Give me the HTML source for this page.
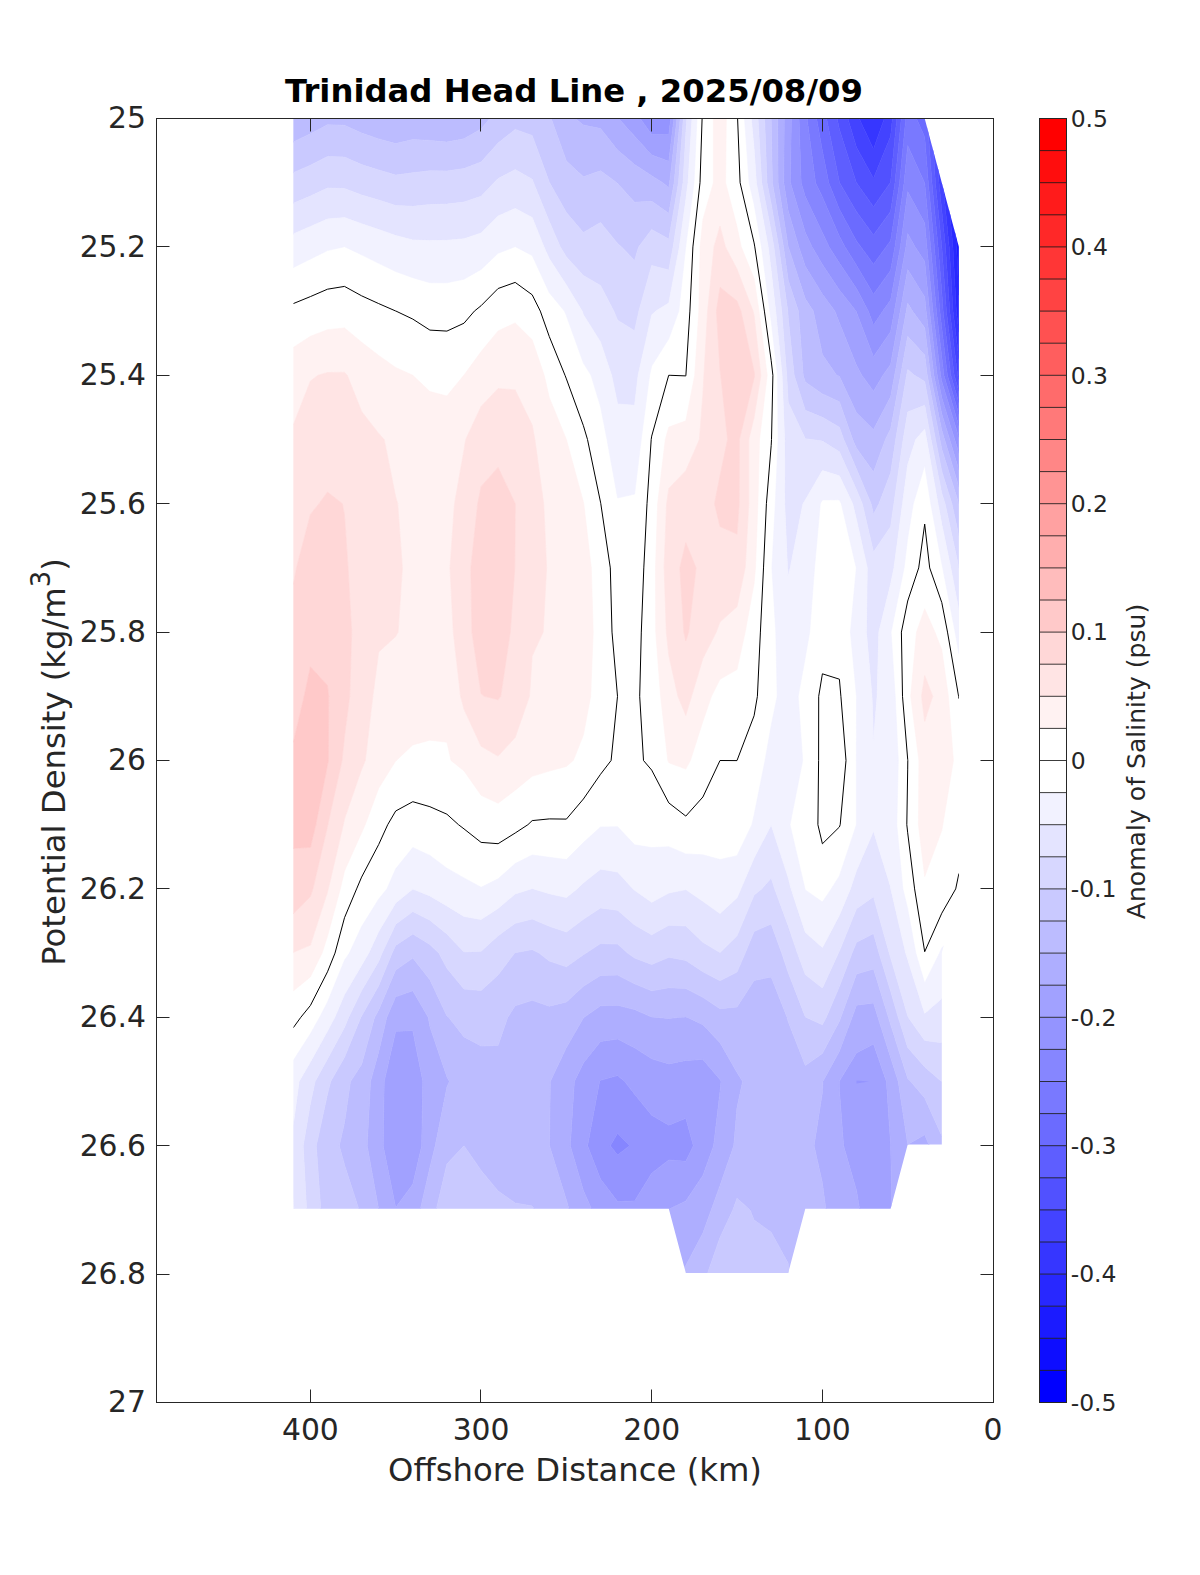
<!DOCTYPE html><html><head><meta charset="utf-8"><title>Trinidad Head Line</title><style>html,body{margin:0;padding:0;background:#fff}body{width:1200px;height:1575px;position:relative;overflow:hidden}</style></head><body><svg width="1200" height="1575" viewBox="0 0 1200 1575" style="position:absolute;left:0;top:0">
<defs><clipPath id="dc"><polygon points="293.3,118.5 924.7,118.5 958.9,246.9 958.9,888.9 941.8,953.1 941.8,1144.5 907.7,1144.5 890.6,1208.7 805.3,1208.7 788.2,1272.9 685.8,1272.9 668.8,1208.7 293.3,1208.7"/></clipPath></defs>
<rect width="1200" height="1575" fill="#fff"/>
<g clip-path="url(#dc)" shape-rendering="geometricPrecision"><path d="M956.6,118.5L958.9,118.5L958.9,156.7Z" fill="#0000ff" stroke="#0000ff" stroke-width="0.6"/><path d="M952.6,118.5L956.6,118.5L958.9,156.7L958.9,182.7L958.9,222.3L956.1,182.7Z" fill="#0d0dff" stroke="#0d0dff" stroke-width="0.6"/><path d="M948.5,118.5L952.6,118.5L956.1,182.7L958.9,222.3L958.9,246.9L958.9,295.1L956.6,246.9L951.7,182.7Z" fill="#1b1bff" stroke="#1b1bff" stroke-width="0.6"/><path d="M873.1,118.5L873.5,118.5L873.9,118.5L873.5,119.5ZM944.4,118.5L948.5,118.5L951.7,182.7L956.6,246.9L958.9,295.1L958.9,311.1L958.9,332.2L956.3,311.1L952.9,246.9L947.2,182.7Z" fill="#2828ff" stroke="#2828ff" stroke-width="0.6"/><path d="M859.2,118.5L873.1,118.5L873.5,119.5L873.9,118.5L884.3,118.5L873.5,148.9ZM940.2,118.5L941.8,118.5L944.4,118.5L947.2,182.7L952.9,246.9L956.3,311.1L958.9,332.2L958.9,358.7L953.0,311.1L949.2,246.9L942.8,182.7L941.8,158.3Z" fill="#3636ff" stroke="#3636ff" stroke-width="0.6"/><path d="M847.9,118.5L856.5,118.5L859.2,118.5L873.5,148.9L884.3,118.5L890.6,118.5L892.4,118.5L890.6,136.3L873.5,178.3L856.5,147.2ZM935.9,118.5L940.2,118.5L941.8,158.3L942.8,182.7L949.2,246.9L953.0,311.1L958.9,358.7L958.9,375.3L958.9,379.6L957.6,375.3L949.7,311.1L945.5,246.9L941.8,210.9L939.0,182.7Z" fill="#4343ff" stroke="#4343ff" stroke-width="0.6"/><path d="M837.2,118.5L839.4,118.5L847.9,118.5L856.5,147.2L873.5,178.3L890.6,136.3L892.4,118.5L896.8,118.5L890.6,181.7L890.2,182.7L873.5,206.7L856.5,182.8L856.4,182.7L839.4,129.3ZM931.6,118.5L935.9,118.5L939.0,182.7L941.8,210.9L945.5,246.9L949.7,311.1L957.6,375.3L958.9,379.6L958.9,391.2L954.2,375.3L946.4,311.1L941.8,247.1L941.8,246.9L935.4,182.7Z" fill="#5151ff" stroke="#5151ff" stroke-width="0.6"/><path d="M826.6,118.5L837.2,118.5L839.4,129.3L856.4,182.7L856.5,182.8L873.5,206.7L890.2,182.7L890.6,181.7L896.8,118.5L901.3,118.5L895.0,182.7L890.6,211.4L873.5,234.9L856.5,211.8L839.6,182.7L839.4,182.0ZM927.3,118.5L931.6,118.5L935.4,182.7L941.8,246.9L941.8,247.1L946.4,311.1L954.2,375.3L958.9,391.2L958.9,402.7L950.8,375.3L943.1,311.1L941.8,292.6L938.1,246.9L931.9,182.7Z" fill="#5e5eff" stroke="#5e5eff" stroke-width="0.6"/><path d="M816.6,118.5L822.4,118.5L826.6,118.5L839.4,182.0L839.6,182.7L856.5,211.8L873.5,234.9L890.6,211.4L895.0,182.7L901.3,118.5L905.8,118.5L899.6,182.7L890.6,240.7L886.0,246.9L873.5,264.2L861.0,246.9L856.5,240.9L839.4,209.3L828.8,182.7L822.4,150.7ZM916.5,118.5L924.7,118.5L927.3,118.5L931.9,182.7L938.1,246.9L941.8,292.6L943.1,311.1L950.8,375.3L958.9,402.7L958.9,414.3L947.4,375.3L941.8,328.3L939.8,311.1L934.4,246.9L928.3,182.7L924.7,137.0Z" fill="#6b6bff" stroke="#6b6bff" stroke-width="0.6"/><path d="M807.1,118.5L816.6,118.5L822.4,150.7L828.8,182.7L839.4,209.3L856.5,240.9L861.0,246.9L873.5,264.2L886.0,246.9L890.6,240.7L899.6,182.7L905.8,118.5L907.7,118.5L916.5,118.5L924.7,137.0L928.3,182.7L934.4,246.9L939.8,311.1L941.8,328.3L947.4,375.3L958.9,414.3L958.9,425.9L943.9,375.3L941.8,357.2L936.4,311.1L930.6,246.9L924.7,183.0L924.6,182.7L907.7,145.4L904.1,182.7L894.9,246.9L890.6,270.4L873.5,294.2L856.5,265.3L845.1,246.9L839.4,236.2L822.4,196.9L815.6,182.7Z" fill="#7979ff" stroke="#7979ff" stroke-width="0.6"/><path d="M799.0,118.5L805.3,118.5L807.1,118.5L815.6,182.7L822.4,196.9L839.4,236.2L845.1,246.9L856.5,265.3L873.5,294.2L890.6,270.4L894.9,246.9L904.1,182.7L907.7,145.4L924.6,182.7L924.7,183.0L930.6,246.9L936.4,311.1L941.8,357.2L943.9,375.3L958.9,425.9L958.9,437.4L941.8,381.4L940.6,375.3L932.9,311.1L926.9,246.9L924.7,223.1L907.7,191.5L900.4,246.9L890.6,300.1L882.8,311.1L873.5,325.0L868.3,311.1L856.5,288.4L839.4,263.1L829.2,246.9L822.4,232.5L805.3,196.6L801.2,182.7ZM610.3,1145.7L617.6,1133.2L629.6,1145.7L617.6,1155.1Z" fill="#8686ff" stroke="#8686ff" stroke-width="0.6"/><path d="M640.2,118.5L651.7,118.5L668.8,118.5L670.7,118.5L668.8,134.8L651.7,134.6ZM791.3,118.5L799.0,118.5L801.2,182.7L805.3,196.6L822.4,232.5L829.2,246.9L839.4,263.1L856.5,288.4L868.3,311.1L873.5,325.0L882.8,311.1L890.6,300.1L900.4,246.9L907.7,191.5L924.7,223.1L926.9,246.9L932.9,311.1L940.6,375.3L941.8,381.4L958.9,437.4L958.9,439.5L958.9,453.3L954.7,439.5L941.8,397.7L937.2,375.3L929.5,311.1L924.7,261.4L915.2,246.9L907.7,233.5L905.9,246.9L894.4,311.1L890.6,331.7L873.5,356.7L856.5,312.3L856.0,311.1L839.4,290.0L822.4,264.5L812.2,246.9L805.3,232.5L790.5,182.7ZM599.6,1081.5L600.5,1080.3L617.6,1075.6L624.7,1081.5L634.6,1094.2L651.7,1115.3L668.8,1125.2L685.8,1118.3L693.3,1145.7L685.8,1161.2L668.8,1159.9L651.7,1173.2L634.6,1200.9L617.6,1201.5L600.5,1179.1L587.6,1145.7ZM617.6,1133.2L610.3,1145.7L617.6,1155.1L629.6,1145.7Z" fill="#9494ff" stroke="#9494ff" stroke-width="0.6"/><path d="M618.6,118.5L634.6,118.5L640.2,118.5L651.7,134.6L668.8,134.8L670.7,118.5L673.9,118.5L668.8,161.2L651.7,155.1L634.6,136.2ZM784.2,118.5L788.2,118.5L791.3,118.5L790.5,182.7L805.3,232.5L812.2,246.9L822.4,264.5L839.4,290.0L856.0,311.1L856.5,312.3L873.5,356.7L890.6,331.7L894.4,311.1L905.9,246.9L907.7,233.5L915.2,246.9L924.7,261.4L929.5,311.1L937.2,375.3L941.8,397.7L954.7,439.5L958.9,453.3L958.9,470.1L949.7,439.5L941.8,414.0L933.9,375.3L926.1,311.1L924.7,297.1L907.7,269.6L900.3,311.1L890.6,364.4L883.0,375.3L873.5,391.2L861.8,375.3L856.5,365.3L839.4,322.8L834.8,311.1L822.3,294.1L805.3,266.3L798.9,246.9L788.2,210.8L783.8,182.7ZM384.2,1081.5L395.7,1031.2L412.8,1030.7L422.8,1081.5L421.7,1145.7L412.8,1184.3L395.7,1207.6L383.2,1145.7ZM574.4,1081.5L583.4,1063.0L600.5,1041.4L617.6,1039.1L634.6,1047.8L651.7,1058.8L668.8,1063.9L685.8,1060.5L702.9,1059.4L720.0,1079.5L721.0,1081.5L720.0,1091.4L713.6,1145.7L702.9,1175.4L685.8,1200.9L668.8,1209.3L668.3,1209.9L651.7,1238.6L634.6,1254.4L617.6,1247.7L600.5,1226.0L592.0,1209.9L583.4,1190.4L570.3,1145.7ZM600.5,1080.3L599.6,1081.5L587.6,1145.7L600.5,1179.1L617.6,1201.5L634.6,1200.9L651.7,1173.2L668.8,1159.9L685.8,1161.2L693.3,1145.7L685.8,1118.3L668.8,1125.2L651.7,1115.3L634.6,1094.2L624.7,1081.5L617.6,1075.6ZM839.2,1081.5L839.4,1081.1L856.5,1052.9L873.5,1044.0L886.4,1081.5L890.6,1144.1L890.7,1145.7L891.9,1209.9L907.7,1212.7L910.8,1209.9L924.7,1198.3L929.1,1209.9L941.8,1232.2L958.9,1254.7L958.9,1274.1L941.8,1274.1L924.7,1274.1L907.7,1274.1L890.6,1274.1L877.3,1274.1L873.5,1265.5L859.8,1209.9L856.5,1190.6L843.6,1145.7L839.4,1089.5Z" fill="#a1a1ff" stroke="#a1a1ff" stroke-width="0.6"/><path d="M575.3,118.5L583.4,118.5L600.5,118.5L617.6,118.5L618.6,118.5L634.6,136.2L651.7,155.1L668.8,161.2L673.9,118.5L677.0,118.5L669.6,182.7L668.8,187.5L662.7,182.7L651.7,175.7L634.6,164.5L617.6,150.1L600.5,128.6L583.4,125.0ZM777.7,118.5L784.2,118.5L783.8,182.7L788.2,210.8L798.9,246.9L805.3,266.3L822.4,294.1L834.8,311.1L839.4,322.8L856.5,365.3L861.8,375.3L873.5,391.2L883.0,375.3L890.6,364.4L900.3,311.1L907.7,269.6L924.7,297.1L926.1,311.1L933.9,375.3L941.8,414.0L949.7,439.5L958.9,470.1L958.9,487.0L944.6,439.5L941.8,430.3L930.6,375.3L924.7,327.7L912.5,311.1L907.7,303.1L906.3,311.1L894.6,375.3L890.6,396.8L873.5,429.5L856.5,412.7L839.4,376.3L836.6,375.3L822.4,354.5L813.3,311.1L805.3,298.8L788.3,246.9L788.2,246.7L778.1,182.7ZM386.8,1017.3L395.7,996.8L412.8,990.8L428.2,1017.3L429.9,1026.7L446.9,1076.9L449.4,1081.5L446.9,1087.1L435.2,1145.7L429.9,1167.5L420.2,1209.9L412.8,1240.0L395.7,1271.5L378.8,1209.9L378.7,1209.5L367.2,1145.7L370.5,1081.5L378.7,1051.9ZM395.7,1031.2L384.2,1081.5L383.2,1145.7L395.7,1207.6L412.8,1184.3L421.7,1145.7L422.8,1081.5L412.8,1030.7ZM584.2,1017.3L600.5,1005.8L617.6,1005.2L634.6,1009.6L651.7,1017.1L655.3,1017.3L668.8,1018.5L679.5,1017.3L685.8,1016.9L687.0,1017.3L702.9,1024.7L720.0,1042.7L737.0,1072.6L742.6,1081.5L737.0,1107.5L733.7,1145.7L720.0,1185.4L711.2,1209.9L702.9,1233.0L685.8,1265.5L675.8,1274.1L668.8,1274.1L651.7,1274.1L634.6,1274.1L617.6,1274.1L600.5,1274.1L600.3,1274.1L583.4,1247.3L569.3,1209.9L566.4,1200.0L549.5,1145.7L550.3,1081.5L566.4,1047.6L583.4,1018.1ZM583.4,1063.0L574.4,1081.5L570.3,1145.7L583.4,1190.4L592.0,1209.9L600.5,1226.0L617.6,1247.7L634.6,1254.4L651.7,1238.6L668.3,1209.9L668.8,1209.3L685.8,1200.9L702.9,1175.4L713.6,1145.7L720.0,1091.4L721.0,1081.5L720.0,1079.5L702.9,1059.4L685.8,1060.5L668.8,1063.9L651.7,1058.8L634.6,1047.8L617.6,1039.1L600.5,1041.4ZM852.1,1017.3L856.5,1005.2L873.5,1003.1L877.9,1017.3L890.6,1057.4L898.2,1081.5L907.7,1144.5L924.7,1134.7L929.3,1145.7L941.8,1184.0L957.9,1209.9L958.9,1211.3L958.9,1254.7L941.8,1232.2L929.1,1209.9L924.7,1198.3L910.8,1209.9L907.7,1212.7L891.9,1209.9L890.7,1145.7L890.6,1144.1L886.4,1081.5L873.5,1044.0L856.5,1052.9L839.4,1081.1L839.2,1081.5L839.4,1089.5L843.6,1145.7L856.5,1190.6L859.8,1209.9L873.5,1265.5L877.3,1274.1L873.5,1274.1L856.5,1274.1L839.4,1274.1L838.8,1274.1L826.0,1209.9L822.4,1182.7L814.1,1145.7L822.4,1092.4L822.9,1081.5L839.4,1051.2Z" fill="#aeaeff" stroke="#aeaeff" stroke-width="0.6"/><path d="M293.3,118.5L310.4,118.5L327.5,118.5L344.5,118.5L361.6,118.5L378.7,118.5L395.7,118.5L412.8,118.5L429.9,118.5L446.9,118.5L464.0,118.5L481.1,118.5L489.7,118.5L481.1,128.9L464.0,138.8L446.9,142.0L429.9,140.4L412.8,139.5L395.7,143.6L378.7,138.9L361.6,133.0L344.5,125.2L327.5,124.8L310.4,133.7L293.3,142.0ZM551.2,118.5L566.4,118.5L575.3,118.5L583.4,125.0L600.5,128.6L617.6,150.1L634.6,164.5L651.7,175.7L662.7,182.7L668.8,187.5L669.6,182.7L677.0,118.5L680.2,118.5L674.1,182.7L668.8,213.3L651.7,201.3L634.6,202.2L617.6,183.4L616.9,182.7L600.5,170.8L583.4,176.8L566.4,161.1ZM771.1,118.5L771.2,118.5L777.7,118.5L778.1,182.7L788.2,246.7L788.3,246.9L805.3,298.8L813.3,311.1L822.4,354.5L836.6,375.3L839.4,376.3L856.5,412.7L873.5,429.5L890.6,396.8L894.6,375.3L906.3,311.1L907.7,303.1L912.5,311.1L924.7,327.7L930.6,375.3L941.8,430.3L944.6,439.5L958.9,487.0L958.9,503.7L958.9,503.9L958.8,503.7L941.8,449.2L939.9,439.5L927.2,375.3L924.7,355.0L907.7,336.3L900.6,375.3L890.6,429.1L885.4,439.5L873.5,472.0L856.5,448.2L852.7,439.5L839.4,401.7L822.4,393.9L805.3,382.0L803.2,375.3L798.4,311.1L788.2,280.2L783.5,246.9L772.4,182.7L771.2,121.0ZM374.6,1017.3L378.7,1010.1L395.7,970.1L412.8,958.1L429.9,979.7L446.9,1016.0L448.6,1017.3L464.0,1036.9L481.1,1046.1L498.1,1045.4L507.8,1017.3L515.2,1005.8L532.2,1000.3L549.3,1006.2L566.4,1001.9L583.4,986.2L600.5,975.4L617.6,975.1L634.6,983.8L651.7,990.8L668.8,987.7L685.8,988.6L702.9,997.3L720.0,1008.7L737.0,1006.9L754.1,980.4L771.2,977.0L787.0,1017.3L788.2,1021.8L805.3,1065.5L822.4,1053.6L839.4,1021.2L840.9,1017.3L856.5,974.1L873.5,969.0L888.4,1017.3L890.6,1024.4L907.7,1078.4L910.7,1081.5L924.7,1098.1L941.8,1135.9L947.2,1145.7L958.9,1164.2L958.9,1209.9L958.9,1211.3L957.9,1209.9L941.8,1184.0L929.3,1145.7L924.7,1134.7L907.7,1144.5L898.2,1081.5L890.6,1057.4L877.9,1017.3L873.5,1003.1L856.5,1005.2L852.1,1017.3L839.4,1051.2L822.9,1081.5L822.4,1092.4L814.1,1145.7L822.4,1182.7L826.0,1209.9L838.8,1274.1L822.4,1274.1L805.3,1274.1L788.5,1274.1L788.2,1263.3L771.2,1232.2L754.1,1220.0L750.1,1209.9L737.0,1198.2L732.8,1209.9L720.0,1237.4L707.3,1274.1L702.9,1274.1L685.8,1274.1L675.8,1274.1L685.8,1265.5L702.9,1233.0L711.2,1209.9L720.0,1185.4L733.7,1145.7L737.0,1107.5L742.6,1081.5L737.0,1072.6L720.0,1042.7L702.9,1024.7L687.0,1017.3L685.8,1016.9L679.5,1017.3L668.8,1018.5L655.3,1017.3L651.7,1017.1L634.6,1009.6L617.6,1005.2L600.5,1005.8L584.2,1017.3L583.4,1018.1L566.4,1047.6L550.3,1081.5L549.5,1145.7L566.4,1200.0L569.3,1209.9L583.4,1247.3L600.3,1274.1L583.4,1274.1L566.4,1274.1L565.9,1274.1L549.3,1239.8L534.8,1209.9L532.2,1206.0L515.2,1202.9L498.1,1191.0L481.1,1170.4L464.0,1145.7L464.0,1145.7L464.0,1145.7L446.9,1164.0L436.2,1209.9L429.9,1233.7L420.2,1274.1L412.8,1274.1L395.7,1274.1L378.7,1274.1L367.2,1274.1L361.6,1221.0L359.1,1209.9L344.5,1164.7L339.3,1145.7L344.5,1122.8L350.5,1081.5L361.6,1064.4ZM395.7,996.8L386.8,1017.3L378.7,1051.9L370.5,1081.5L367.2,1145.7L378.7,1209.5L378.8,1209.9L395.7,1271.5L412.8,1240.0L420.2,1209.9L429.9,1167.5L435.2,1145.7L446.9,1087.1L449.4,1081.5L446.9,1076.9L429.9,1026.7L428.2,1017.3L412.8,990.8Z" fill="#bcbcff" stroke="#bcbcff" stroke-width="0.6"/><path d="M293.3,172.7L293.3,142.0L310.4,133.7L327.5,124.8L344.5,125.2L361.6,133.0L378.7,138.9L395.7,143.6L412.8,139.5L429.9,140.4L446.9,142.0L464.0,138.8L481.1,128.9L489.7,118.5L498.1,118.5L515.2,118.5L532.2,118.5L549.3,118.5L551.2,118.5L566.4,161.1L583.4,176.8L600.5,170.8L616.9,182.7L617.6,183.4L634.6,202.2L651.7,201.3L668.8,213.3L674.1,182.7L680.2,118.5L683.3,118.5L678.5,182.7L668.8,239.1L651.7,229.4L638.6,246.9L634.6,260.5L621.6,246.9L617.6,243.4L600.5,222.5L583.4,232.5L566.4,212.6L549.6,182.7L549.3,181.9L532.2,135.5L515.2,129.4L498.1,143.1L481.1,161.9L464.0,168.6L446.9,170.9L429.9,170.7L412.8,172.8L395.7,175.0L378.7,170.0L361.6,164.6L344.5,157.1L327.5,156.4L310.4,165.2ZM764.6,118.5L771.1,118.5L771.2,121.0L772.4,182.7L783.5,246.9L788.2,280.2L798.4,311.1L803.2,375.3L805.3,382.0L822.4,393.9L839.4,401.7L852.7,439.5L856.5,448.2L873.5,472.0L885.4,439.5L890.6,429.1L900.6,375.3L907.7,336.3L924.7,355.0L927.2,375.3L939.9,439.5L941.8,449.2L958.8,503.7L958.9,503.9L958.9,535.8L951.9,503.7L941.8,471.2L935.5,439.5L924.7,381.4L914.6,375.3L907.7,369.4L906.6,375.3L895.7,439.5L890.6,473.1L878.9,503.7L873.5,514.3L871.1,503.7L856.5,469.0L843.8,439.5L839.4,427.2L822.4,417.3L805.3,410.3L794.2,375.3L788.2,317.7L787.8,311.1L778.7,246.9L771.2,204.0L767.0,182.7ZM392.1,953.1L395.7,945.4L412.8,934.1L429.9,944.5L438.8,953.1L446.9,968.3L464.0,989.1L481.1,990.6L498.1,975.0L514.6,953.1L515.2,952.7L532.2,949.5L539.1,953.1L549.3,961.0L566.4,966.8L583.4,954.7L586.1,953.1L600.5,943.6L617.6,944.1L627.6,953.1L634.6,958.0L651.7,964.5L668.8,957.3L685.8,960.4L702.9,971.8L720.0,980.7L737.0,972.1L745.2,953.1L754.1,931.5L771.2,923.9L781.7,953.1L788.2,972.4L805.3,1016.9L805.9,1017.3L822.4,1024.8L826.3,1017.3L839.4,986.6L852.1,953.1L856.5,942.3L873.5,933.6L879.0,953.1L890.6,991.1L898.2,1017.3L907.7,1047.4L924.7,1067.0L941.5,1081.5L941.8,1082.0L958.9,1111.2L958.9,1145.7L958.9,1164.2L947.2,1145.7L941.8,1135.9L924.7,1098.1L910.7,1081.5L907.7,1078.4L890.6,1024.4L888.4,1017.3L873.5,969.0L856.5,974.1L840.9,1017.3L839.4,1021.2L822.3,1053.6L805.3,1065.5L788.2,1021.8L787.0,1017.3L771.2,977.0L754.1,980.4L737.0,1006.9L720.0,1008.7L702.9,997.3L685.8,988.6L668.8,987.7L651.7,990.8L634.6,983.8L617.6,975.1L600.5,975.4L583.4,986.2L566.4,1001.9L549.3,1006.2L532.2,1000.3L515.2,1005.8L507.8,1017.3L498.1,1045.4L481.1,1046.1L464.0,1036.9L448.6,1017.3L446.9,1016.0L429.9,979.7L412.8,958.1L395.7,970.1L378.7,1010.1L374.6,1017.3L361.6,1064.4L350.5,1081.5L344.5,1122.8L339.3,1145.7L344.5,1164.7L359.1,1209.9L361.6,1221.0L367.2,1274.1L361.6,1274.1L344.5,1274.1L330.8,1274.1L327.5,1262.5L320.8,1209.9L316.3,1145.7L327.5,1094.1L330.7,1081.5L344.5,1057.3L360.9,1017.3L361.6,1015.9L378.7,985.8ZM464.0,1145.7L464.0,1145.7L464.0,1145.7L481.1,1170.4L498.1,1191.0L515.2,1202.9L532.2,1206.0L534.8,1209.9L549.3,1239.8L565.9,1274.1L549.3,1274.1L532.2,1274.1L515.2,1274.1L498.1,1274.1L481.1,1274.1L470.8,1274.1L464.0,1261.3L446.9,1266.3L444.9,1274.1L429.9,1274.1L420.2,1274.1L429.9,1233.7L436.2,1209.9L446.9,1164.0ZM732.8,1209.9L737.0,1198.2L750.1,1209.9L754.1,1220.0L771.2,1232.2L788.2,1263.3L788.5,1274.1L788.2,1274.1L771.2,1274.1L754.1,1274.1L737.0,1274.1L720.0,1274.1L707.3,1274.1L720.0,1237.4Z" fill="#c9c9ff" stroke="#c9c9ff" stroke-width="0.6"/><path d="M293.3,182.7L293.3,172.7L310.4,165.2L327.5,156.4L344.5,157.1L361.6,164.6L378.7,170.0L395.7,175.0L412.8,172.8L429.9,170.7L446.9,170.9L464.0,168.6L481.1,161.9L498.1,143.1L515.2,129.4L532.2,135.5L549.3,181.9L549.6,182.7L566.4,212.6L583.4,232.5L600.5,222.5L617.6,243.4L621.6,246.9L634.6,260.5L638.6,246.9L651.7,229.4L668.8,239.1L678.5,182.7L683.3,118.5L685.8,118.5L686.9,118.5L685.8,134.0L683.0,182.7L673.1,246.9L668.8,270.0L651.7,265.5L638.9,311.1L634.6,330.8L617.6,320.2L613.8,311.1L600.5,285.5L583.4,275.6L566.4,256.9L560.3,246.9L549.3,221.5L533.5,182.7L532.2,179.2L515.2,169.6L498.1,178.6L494.0,182.7L481.1,196.3L464.0,202.1L446.9,204.1L429.9,204.5L412.8,206.3L395.7,205.4L378.7,200.1L361.6,195.0L344.5,188.5L327.5,188.0L310.4,196.1L293.3,203.3ZM758.0,118.5L764.6,118.5L767.0,182.7L771.2,204.0L778.7,246.9L787.8,311.1L788.2,317.7L794.2,375.3L805.3,410.3L822.4,417.3L839.4,427.2L843.8,439.5L856.5,469.0L871.1,503.7L873.5,514.3L878.9,503.7L890.6,473.1L895.7,439.5L906.6,375.3L907.7,369.4L914.6,375.3L924.7,381.4L935.5,439.5L941.8,471.2L951.9,503.7L958.9,535.8L958.9,567.7L945.1,503.7L941.8,493.3L931.0,439.5L924.7,405.3L907.7,412.0L903.1,439.5L893.9,503.7L890.6,526.7L873.5,552.0L862.3,503.7L856.5,489.8L839.4,451.8L822.4,441.1L811.3,439.5L805.3,438.7L788.2,402.4L786.7,375.3L781.7,311.1L773.9,246.9L771.2,231.4L761.7,182.7ZM761.7,888.9L771.2,878.0L774.7,888.9L788.2,925.7L797.4,953.1L805.3,974.6L822.4,988.0L838.4,953.1L839.4,951.1L856.5,908.8L873.5,896.8L889.2,953.1L890.6,957.6L907.7,1015.7L908.2,1017.3L924.7,1040.5L941.8,1042.7L958.9,1051.9L958.9,1081.5L958.9,1111.2L941.8,1082.0L941.5,1081.5L924.7,1067.0L907.7,1047.4L898.2,1017.3L890.6,991.1L879.0,953.1L873.5,933.6L856.5,942.3L852.1,953.1L839.4,986.6L826.3,1017.3L822.4,1024.8L805.9,1017.3L805.3,1016.9L788.2,972.4L781.7,953.1L771.2,923.9L754.1,931.5L745.2,953.1L737.0,972.1L720.0,980.7L702.9,971.8L685.8,960.4L668.8,957.3L651.7,964.5L634.6,958.0L627.6,953.1L617.6,944.1L600.5,943.6L586.1,953.1L583.4,954.7L566.4,966.8L549.3,961.0L539.1,953.1L532.2,949.5L515.2,952.7L514.6,953.1L498.1,975.0L481.1,990.6L464.0,989.1L446.9,968.3L438.8,953.1L429.9,944.5L412.8,934.1L395.7,945.4L392.1,953.1L378.7,985.8L361.6,1015.9L360.9,1017.3L344.5,1057.3L330.7,1081.5L327.5,1094.1L316.3,1145.7L320.8,1209.9L327.5,1262.5L330.8,1274.1L327.5,1274.1L310.7,1274.1L310.4,1270.5L306.6,1209.9L303.2,1145.7L310.4,1103.4L315.1,1081.5L327.5,1058.9L344.5,1027.4L348.7,1017.3L361.6,990.6L378.7,961.4L382.1,953.1L395.7,924.2L412.8,911.6L429.9,920.2L446.9,934.0L464.0,951.9L481.1,951.2L498.1,935.8L515.2,923.3L532.2,919.0L549.3,926.2L566.4,932.0L583.4,919.2L600.5,907.9L617.6,910.2L634.6,924.9L651.7,934.8L668.8,925.2L685.8,926.0L702.9,942.2L720.0,952.6L737.0,935.8L754.1,895.0ZM444.9,1274.1L446.9,1266.3L464.0,1261.3L470.8,1274.1L464.0,1274.1L446.9,1274.1Z" fill="#d7d7ff" stroke="#d7d7ff" stroke-width="0.6"/><path d="M494.0,182.7L498.1,178.6L515.2,169.6L532.2,179.2L533.5,182.7L549.3,221.5L560.3,246.9L566.4,256.9L583.4,275.6L600.5,285.5L613.8,311.1L617.6,320.2L634.6,330.8L638.9,311.1L651.7,265.5L668.8,270.0L673.1,246.9L683.0,182.7L685.8,134.0L686.9,118.5L692.0,118.5L688.0,182.7L685.8,199.8L679.4,246.9L668.8,303.1L655.8,311.1L651.7,314.9L638.1,375.3L634.6,405.3L617.6,404.0L611.6,375.3L600.5,341.9L583.4,314.8L582.1,311.1L566.4,285.0L549.3,258.8L544.0,246.9L532.2,217.4L515.2,208.4L498.1,216.0L481.1,233.0L464.0,238.8L446.9,240.3L429.9,240.6L412.8,239.9L395.7,235.5L378.7,229.5L361.6,223.7L344.5,217.6L327.5,218.9L310.4,226.5L293.3,233.9L293.3,203.3L310.4,196.1L327.5,188.0L344.5,188.5L361.6,195.0L378.7,200.1L395.7,205.4L412.8,206.3L429.9,204.5L446.9,204.1L464.0,202.1L481.1,196.3ZM751.3,118.5L754.1,118.5L758.0,118.5L761.7,182.7L771.2,231.4L773.9,246.9L781.7,311.1L786.7,375.3L788.2,402.4L805.3,438.7L811.3,439.5L822.3,441.1L839.4,451.8L856.5,489.8L862.3,503.7L873.5,552.0L890.6,526.7L893.9,503.7L903.1,439.5L907.7,412.0L924.7,405.3L931.0,439.5L941.8,493.3L945.1,503.7L958.9,567.7L958.9,567.9L958.9,610.5L950.8,567.9L941.8,524.3L938.0,503.7L926.6,439.5L924.7,429.2L915.7,439.5L907.7,464.7L902.5,503.7L893.9,567.9L890.6,584.1L878.8,632.1L877.1,696.3L873.5,740.6L872.0,696.3L866.4,632.1L867.3,567.9L856.5,519.7L852.7,503.7L839.4,475.8L822.4,470.5L805.3,499.9L802.9,503.7L790.2,567.9L788.2,576.0L787.5,567.9L784.7,503.7L784.6,439.5L782.1,375.3L775.7,311.1L771.2,270.6L768.2,246.9L756.4,182.7L754.1,148.9ZM531.0,888.9L532.2,888.4L533.7,888.9L549.3,893.7L566.4,897.5L577.0,888.9L583.4,882.8L600.5,869.2L617.6,872.0L633.1,888.9L634.6,890.2L651.7,902.3L668.8,893.0L685.8,889.6L702.9,901.3L720.0,913.5L737.0,897.8L740.8,888.9L754.1,857.9L771.2,825.0L788.2,877.6L791.1,888.9L805.3,932.3L822.4,947.6L839.4,915.2L850.4,888.9L856.5,870.4L873.5,831.3L890.6,886.9L890.8,888.9L905.7,953.1L907.7,959.6L924.7,1013.4L941.8,998.4L958.9,990.7L958.9,1017.3L958.9,1051.9L941.8,1042.7L924.7,1040.5L908.2,1017.3L907.7,1015.7L890.6,957.6L889.2,953.1L873.5,896.8L856.5,908.8L839.4,951.1L838.4,953.1L822.4,988.0L805.3,974.6L797.4,953.1L788.2,925.7L774.7,888.9L771.2,878.0L761.7,888.9L754.1,895.0L737.0,935.8L720.0,952.6L702.9,942.2L685.8,926.0L668.8,925.2L651.7,934.8L634.6,924.9L617.6,910.2L600.5,907.9L583.4,919.2L566.4,932.0L549.3,926.2L532.2,919.0L515.2,923.3L498.1,935.8L481.1,951.2L464.0,951.9L446.9,934.0L429.9,920.2L412.8,911.6L395.7,924.2L382.1,953.1L378.7,961.4L361.6,990.6L348.7,1017.3L344.5,1027.4L327.5,1058.9L315.1,1081.5L310.4,1103.4L303.2,1145.7L306.6,1209.9L310.4,1270.5L310.7,1274.1L310.4,1274.1L295.6,1274.1L293.8,1209.9L293.3,1198.5L293.3,1145.7L293.3,1124.7L299.1,1081.5L310.4,1062.0L327.5,1031.1L334.8,1017.3L344.5,994.6L361.6,965.3L368.8,953.1L378.7,931.5L395.7,903.0L412.8,889.1L429.9,895.9L446.9,906.0L464.0,916.4L481.1,919.5L498.1,908.4L515.2,893.9Z" fill="#e4e4ff" stroke="#e4e4ff" stroke-width="0.6"/><path d="M692.0,118.5L697.0,118.5L694.0,182.7L685.8,246.1L685.7,246.9L678.8,311.1L668.8,338.8L651.7,366.0L649.6,375.3L641.2,439.5L634.6,494.1L617.6,497.9L607.0,439.5L600.5,406.5L591.0,375.3L583.4,363.1L566.4,315.7L564.4,311.1L549.3,292.7L532.2,255.5L515.8,246.9L515.2,246.6L514.4,246.9L498.1,253.3L481.1,269.4L464.0,279.2L446.9,282.8L429.9,282.7L412.8,277.7L395.7,271.5L378.7,263.3L361.6,254.8L345.0,246.9L344.5,246.7L343.7,246.9L327.5,250.6L310.4,259.1L293.3,267.6L293.3,246.9L293.3,233.9L310.4,226.5L327.5,218.9L344.5,217.6L361.6,223.7L378.7,229.5L395.7,235.5L412.8,239.9L429.9,240.6L446.9,240.3L464.0,238.8L481.1,233.0L498.1,216.0L515.2,208.4L532.2,217.4L544.0,246.9L549.3,258.8L566.4,285.0L582.1,311.1L583.4,314.8L600.5,341.9L611.6,375.3L617.6,404.0L634.6,405.3L638.1,375.3L651.7,314.9L655.8,311.1L668.8,303.1L679.4,246.9L685.8,199.8L688.0,182.7ZM744.5,118.5L751.3,118.5L754.1,148.9L756.4,182.7L768.2,246.9L771.2,270.6L775.7,311.1L782.1,375.3L784.6,439.5L784.7,503.7L787.5,567.9L788.2,576.0L790.2,567.9L802.9,503.7L805.3,499.9L822.4,470.5L839.4,475.8L852.7,503.7L856.5,519.7L867.3,567.9L866.4,632.1L872.0,696.3L873.5,740.6L877.1,696.3L878.8,632.1L890.6,584.1L893.9,567.9L902.5,503.7L907.7,464.7L915.7,439.5L924.7,429.2L926.6,439.5L938.0,503.7L941.8,524.3L950.8,567.9L958.9,610.5L958.9,632.1L958.9,653.7L955.1,632.1L942.7,567.9L941.8,563.4L930.8,503.7L924.7,465.6L913.3,503.7L907.7,538.2L904.1,567.9L891.1,632.1L895.2,696.3L898.3,760.5L896.8,824.7L902.9,888.9L907.7,908.8L915.8,953.1L924.7,983.0L939.5,953.1L941.8,947.7L958.9,933.5L958.9,953.1L958.9,990.7L941.8,998.4L924.7,1013.4L907.7,959.6L905.7,953.1L890.8,888.9L890.6,886.9L873.5,831.3L856.5,870.4L850.4,888.9L839.4,915.2L822.4,947.6L805.3,932.3L791.1,888.9L788.2,877.6L771.2,825.0L754.1,857.9L740.8,888.9L737.0,897.8L720.0,913.5L702.9,901.3L685.8,889.6L668.8,893.0L651.7,902.3L634.6,890.2L633.1,888.9L617.6,872.0L600.5,869.2L583.4,882.8L577.0,888.9L566.4,897.5L549.3,893.7L533.7,888.9L532.2,888.4L531.0,888.9L515.2,893.9L498.1,908.4L481.1,919.5L464.0,916.4L446.9,906.0L429.9,895.9L412.8,889.1L395.7,903.0L378.7,931.5L368.8,953.1L361.6,965.3L344.5,994.6L334.8,1017.3L327.5,1031.1L310.4,1062.0L299.1,1081.5L293.3,1124.7L293.3,1081.5L293.3,1060.4L310.4,1033.8L319.6,1017.3L327.5,1002.1L344.5,960.2L349.4,953.1L361.6,926.6L378.7,899.0L386.9,888.9L395.7,868.8L412.8,847.5L429.9,855.4L446.9,868.2L464.0,877.9L481.1,887.3L498.1,878.8L515.2,863.6L532.2,855.0L549.3,857.3L566.4,859.6L583.4,842.6L600.5,827.0L617.6,826.7L634.6,844.8L651.7,847.6L668.8,846.7L685.8,853.9L702.9,854.8L720.0,859.5L737.0,855.7L751.9,824.7L754.1,814.9L765.0,760.5L771.2,725.5L777.2,696.3L775.8,632.1L771.9,567.9L775.3,503.7L778.1,439.5L777.5,375.3L771.2,321.2L769.8,311.1L761.5,246.9L754.1,204.2L749.1,182.7ZM822.4,499.9L820.3,503.7L814.5,567.9L809.7,632.1L805.3,657.4L798.2,696.3L802.7,760.5L790.0,824.7L805.0,888.9L805.3,889.9L822.4,902.0L831.2,888.9L839.4,875.9L856.4,824.7L856.4,760.5L856.5,696.3L850.4,632.1L856.3,567.9L841.3,503.7L839.4,499.8ZM293.3,1209.9L293.3,1198.5L293.8,1209.9L295.6,1274.1L293.3,1274.1Z" fill="#f2f2ff" stroke="#f2f2ff" stroke-width="0.6"/><path d="M713.4,118.5L720.0,118.5L726.3,118.5L725.6,182.7L737.0,226.6L741.3,246.9L754.1,278.6L759.0,311.1L767.2,375.3L759.5,439.5L757.9,503.7L755.5,567.9L754.1,583.4L745.2,632.1L737.0,669.6L720.0,679.3L711.5,696.3L702.9,721.4L690.4,760.5L685.8,769.1L668.8,762.7L667.8,760.5L660.6,696.3L655.7,632.1L655.5,567.9L657.6,503.7L665.3,439.5L668.8,427.1L685.8,420.8L694.7,375.3L698.8,311.1L700.1,246.9L702.9,219.4L713.4,182.7ZM720.0,226.0L714.0,246.9L707.6,311.1L703.9,375.3L702.9,393.7L699.4,439.5L685.8,470.7L668.8,488.4L666.6,503.7L664.1,567.9L666.3,632.1L668.8,655.5L677.9,696.3L685.8,715.5L691.6,696.3L702.9,658.6L716.3,632.1L720.0,622.1L737.0,606.7L745.2,567.9L748.8,503.7L748.8,439.5L754.1,417.4L760.9,375.3L754.1,315.5L753.1,311.1L737.0,269.1L725.4,246.9ZM293.3,375.3L293.3,347.4L310.4,336.3L327.5,329.7L344.5,327.9L361.6,342.2L378.7,355.4L395.7,367.5L412.8,375.3L412.8,375.3L429.9,391.5L446.9,396.0L463.7,375.3L464.0,375.1L481.1,351.6L498.1,330.9L515.2,322.9L532.2,339.8L544.2,375.3L549.3,397.5L566.4,439.4L566.4,439.5L583.4,501.9L583.8,503.7L591.3,567.9L593.2,632.1L590.7,696.3L583.4,735.1L573.3,760.5L566.4,766.4L549.3,771.1L532.2,776.3L515.2,790.2L498.1,803.3L481.1,795.3L464.0,770.9L451.0,760.5L446.9,742.2L429.9,740.2L412.8,744.9L396.4,760.5L395.7,760.9L378.7,788.3L365.2,824.7L361.6,832.8L344.5,871.0L340.3,888.9L327.5,936.3L322.1,953.1L310.4,976.9L293.3,991.0L293.3,953.1L293.3,952.4L310.4,945.1L327.5,892.1L328.3,888.9L343.3,824.7L344.5,818.8L361.6,769.4L365.3,760.5L372.8,696.3L378.7,652.0L395.7,636.4L398.1,632.1L402.4,567.9L397.7,503.7L395.7,497.1L384.2,439.5L378.7,433.5L361.6,411.5L347.3,375.3L344.5,372.4L327.5,372.5L318.0,375.3L310.4,381.1L293.3,425.0ZM481.1,406.4L465.7,439.5L464.0,450.1L454.5,503.7L450.0,567.9L453.3,632.1L460.6,696.3L464.0,709.3L481.1,746.2L498.1,756.1L515.2,737.4L529.5,696.3L532.2,656.1L543.2,632.1L546.6,567.9L543.7,503.7L534.9,439.5L532.2,425.1L515.2,389.9L498.1,388.6ZM916.5,632.1L924.7,608.7L934.9,632.1L941.8,649.8L948.4,696.3L953.4,760.5L942.8,824.7L941.8,830.5L924.7,876.6L918.4,824.7L918.9,760.5L910.7,696.3ZM924.7,675.5L921.5,696.3L924.7,721.3L932.7,696.3Z" fill="#fff2f2" stroke="#fff2f2" stroke-width="0.6"/><path d="M714.0,246.9L720.0,226.0L725.4,246.9L737.0,269.1L753.1,311.1L754.1,315.5L760.9,375.3L754.1,417.4L748.8,439.5L748.8,503.7L745.2,567.9L737.0,606.7L720.0,622.1L716.3,632.1L702.9,658.6L691.6,696.3L685.8,715.5L677.9,696.3L668.8,655.5L666.3,632.1L664.1,567.9L666.6,503.7L668.8,488.4L685.8,470.7L699.4,439.5L702.9,393.7L703.9,375.3L707.6,311.1ZM720.0,287.2L716.4,311.1L720.0,370.3L720.7,375.3L727.6,439.5L720.0,475.9L714.5,503.7L720.0,526.5L737.0,534.1L739.2,503.7L739.4,439.5L754.1,378.2L754.6,375.3L754.1,371.2L740.9,311.1L737.0,301.0ZM685.8,542.6L679.8,567.9L683.8,632.1L685.8,640.9L688.7,632.1L696.1,567.9ZM318.0,375.3L327.5,372.5L344.5,372.4L347.3,375.3L361.6,411.5L378.7,433.5L384.2,439.5L395.7,497.1L397.7,503.7L402.4,567.9L398.1,632.1L395.7,636.4L378.7,652.0L372.8,696.3L365.3,760.5L361.6,769.4L344.5,818.8L343.3,824.7L328.3,888.9L327.5,892.1L310.4,945.1L293.3,952.4L293.3,913.8L310.4,896.6L312.9,888.9L327.5,826.4L327.8,824.7L342.0,760.5L344.5,736.2L349.7,696.3L351.7,632.1L348.1,567.9L344.5,515.4L342.4,503.7L327.5,492.0L319.0,503.7L310.4,514.4L296.5,567.9L293.3,584.8L293.3,567.9L293.3,503.7L293.3,439.5L293.3,425.0L310.4,381.1ZM465.7,439.5L481.1,406.4L498.1,388.6L515.2,389.9L532.2,425.1L534.9,439.5L543.7,503.7L546.6,567.9L543.2,632.1L532.2,656.1L529.5,696.3L515.2,737.4L498.1,756.1L481.1,746.2L464.0,709.3L460.6,696.3L453.3,632.1L450.0,567.9L454.5,503.7L464.0,450.1ZM481.1,486.4L477.7,503.7L470.8,567.9L471.9,632.1L481.1,693.8L484.3,696.3L498.1,699.7L500.7,696.3L510.3,632.1L514.8,567.9L515.2,513.3L515.2,503.7L515.2,503.5L498.1,467.4ZM921.5,696.3L924.7,675.5L932.7,696.3L924.7,721.3Z" fill="#ffe4e4" stroke="#ffe4e4" stroke-width="0.6"/><path d="M716.4,311.1L720.0,287.2L737.0,301.0L740.9,311.1L754.1,371.2L754.6,375.3L754.1,378.2L739.4,439.5L739.2,503.7L737.0,534.1L720.0,526.5L714.5,503.7L720.0,475.9L727.6,439.5L720.7,375.3L720.0,370.3ZM319.0,503.7L327.5,492.0L342.4,503.7L344.5,515.4L348.1,567.9L351.7,632.1L349.7,696.3L344.5,736.2L342.0,760.5L327.8,824.7L327.5,826.4L312.9,888.9L310.4,896.6L293.3,913.8L293.3,888.9L293.3,848.4L310.4,847.3L315.8,824.7L327.5,764.9L328.4,760.5L328.6,696.3L327.5,685.5L310.4,666.8L304.2,696.3L293.3,742.4L293.3,696.3L293.3,632.1L293.3,584.8L296.5,567.9L310.4,514.4ZM477.7,503.7L481.1,486.4L498.1,467.4L515.2,503.5L515.2,503.7L515.2,513.3L514.8,567.9L510.3,632.1L500.7,696.3L498.1,699.7L484.3,696.3L481.1,693.8L471.9,632.1L470.8,567.9ZM679.8,567.9L685.8,542.6L696.1,567.9L688.7,632.1L685.8,640.9L683.8,632.1Z" fill="#ffd7d7" stroke="#ffd7d7" stroke-width="0.6"/><path d="M304.2,696.3L310.4,666.8L327.5,685.5L328.6,696.3L328.4,760.5L327.5,764.9L315.8,824.7L310.4,847.3L293.3,848.4L293.3,824.7L293.3,760.5L293.3,742.4Z" fill="#ffc9c9" stroke="#ffc9c9" stroke-width="0.6"/><path d="M856.5,1080.6L869,1081.6L856.5,1083.6Z" fill="#9494ff"/><path d="M737.6,118.5L740.1,182.7L754.1,242.9L754.8,246.9L764.4,311.1L771.2,360.7L772.9,375.3L771.5,439.5L771.2,445.3L766.4,503.7L763.5,567.9L760.4,632.1L757.4,696.3L754.1,715.7L737.0,760.5L737.0,760.6L720.0,760.5L702.9,797.0L685.8,816.1L668.8,802.9L651.7,770.1L643.5,760.5L639.7,696.3L641.3,632.1L643.8,567.9L647.0,503.7L651.2,439.5L651.7,436.1L668.7,375.3L668.8,375.3L670.1,375.3L685.8,375.9L685.9,375.3L689.9,311.1L692.9,246.9L700.0,182.7L702.1,118.5M293.3,303.6L310.4,296.6L327.5,289.2L344.5,286.4L361.6,295.8L378.7,303.6L395.7,311.0L396.0,311.1L412.8,319.1L429.9,330.1L446.9,331.1L464.0,323.2L474.4,311.1L481.1,305.7L498.1,288.5L515.2,282.4L532.2,294.8L540.3,311.1L549.3,336.6L565.0,375.3L566.4,378.9L583.4,425.7L587.5,439.5L600.5,502.1L600.8,503.7L610.3,567.9L612.0,632.1L617.5,696.3L611.1,760.5L600.5,774.3L583.4,799.0L566.4,819.1L549.3,818.9L532.2,820.6L527.9,824.7L515.2,833.0L498.1,843.7L481.1,842.4L464.0,828.9L458.5,824.7L446.9,814.2L429.9,806.7L412.8,801.7L395.7,811.0L387.7,824.7L378.7,844.5L361.6,877.1L356.6,888.9L344.5,917.7L335.0,953.1L327.5,971.8L310.4,1005.5L300.8,1017.3L293.3,1027.7M818.7,696.3L822.4,673.8L839.4,679.2L840.9,696.3L846.0,760.5L840.2,824.7L839.4,827.0L822.4,843.8L817.9,824.7L818.6,760.5L818.7,696.3M958.9,873.5L955.7,888.9L941.8,913.2L924.7,951.7L914.6,888.9L907.7,832.8L906.8,824.7L907.7,769.1L907.8,760.5L907.7,759.3L902.5,696.3L901.4,632.1L907.7,601.0L918.7,567.9L924.7,524.1L929.7,567.9L941.8,602.6L947.5,632.1L958.6,696.3L958.9,698.7" fill="none" stroke="#000" stroke-width="1"/></g>
<rect x="156.5" y="118.5" width="837.0" height="1284.0" fill="none" stroke="#262626" stroke-width="1"/>
<path d="M310.5,1402.5v-13M310.5,118.5v13M480.5,1402.5v-13M480.5,118.5v13M651.5,1402.5v-13M651.5,118.5v13M822.5,1402.5v-13M822.5,118.5v13M993.5,1402.5v-13M993.5,118.5v13M156.5,118.5h13M993.5,118.5h-13M156.5,246.5h13M993.5,246.5h-13M156.5,375.5h13M993.5,375.5h-13M156.5,503.5h13M993.5,503.5h-13M156.5,632.5h13M993.5,632.5h-13M156.5,760.5h13M993.5,760.5h-13M156.5,888.5h13M993.5,888.5h-13M156.5,1017.5h13M993.5,1017.5h-13M156.5,1145.5h13M993.5,1145.5h-13M156.5,1274.5h13M993.5,1274.5h-13M156.5,1402.5h13M993.5,1402.5h-13" stroke="#262626" stroke-width="1" fill="none"/>
<text x="310.4" y="1439.5" font-family="DejaVu Sans, Liberation Sans, sans-serif" font-size="29.8" fill="#262626" text-anchor="middle">400</text>
<text x="481.1" y="1439.5" font-family="DejaVu Sans, Liberation Sans, sans-serif" font-size="29.8" fill="#262626" text-anchor="middle">300</text>
<text x="651.7" y="1439.5" font-family="DejaVu Sans, Liberation Sans, sans-serif" font-size="29.8" fill="#262626" text-anchor="middle">200</text>
<text x="822.4" y="1439.5" font-family="DejaVu Sans, Liberation Sans, sans-serif" font-size="29.8" fill="#262626" text-anchor="middle">100</text>
<text x="993.0" y="1439.5" font-family="DejaVu Sans, Liberation Sans, sans-serif" font-size="29.8" fill="#262626" text-anchor="middle">0</text>
<text x="146" y="128.3" font-family="DejaVu Sans, Liberation Sans, sans-serif" font-size="29.8" fill="#262626" text-anchor="end">25</text>
<text x="146" y="256.7" font-family="DejaVu Sans, Liberation Sans, sans-serif" font-size="29.8" fill="#262626" text-anchor="end">25.2</text>
<text x="146" y="385.1" font-family="DejaVu Sans, Liberation Sans, sans-serif" font-size="29.8" fill="#262626" text-anchor="end">25.4</text>
<text x="146" y="513.5" font-family="DejaVu Sans, Liberation Sans, sans-serif" font-size="29.8" fill="#262626" text-anchor="end">25.6</text>
<text x="146" y="641.9" font-family="DejaVu Sans, Liberation Sans, sans-serif" font-size="29.8" fill="#262626" text-anchor="end">25.8</text>
<text x="146" y="770.3" font-family="DejaVu Sans, Liberation Sans, sans-serif" font-size="29.8" fill="#262626" text-anchor="end">26</text>
<text x="146" y="898.7" font-family="DejaVu Sans, Liberation Sans, sans-serif" font-size="29.8" fill="#262626" text-anchor="end">26.2</text>
<text x="146" y="1027.1" font-family="DejaVu Sans, Liberation Sans, sans-serif" font-size="29.8" fill="#262626" text-anchor="end">26.4</text>
<text x="146" y="1155.5" font-family="DejaVu Sans, Liberation Sans, sans-serif" font-size="29.8" fill="#262626" text-anchor="end">26.6</text>
<text x="146" y="1283.9" font-family="DejaVu Sans, Liberation Sans, sans-serif" font-size="29.8" fill="#262626" text-anchor="end">26.8</text>
<text x="146" y="1412.3" font-family="DejaVu Sans, Liberation Sans, sans-serif" font-size="29.8" fill="#262626" text-anchor="end">27</text>
<text x="575" y="1480.5" font-family="DejaVu Sans, Liberation Sans, sans-serif" font-size="32.27" fill="#262626" text-anchor="middle">Offshore Distance (km)</text>
<text transform="translate(65,762) rotate(-90)" font-family="DejaVu Sans, Liberation Sans, sans-serif" font-size="32.27" fill="#262626" text-anchor="middle">Potential Density (kg/m<tspan dy="-14.6" font-size="25.8">3</tspan><tspan dy="14.6">)</tspan></text>
<text x="574" y="101.5" font-family="DejaVu Sans, Liberation Sans, sans-serif" font-size="32.27" font-weight="bold" fill="#000" text-anchor="middle">Trinidad Head Line , 2025/08/09</text>
<rect x="1039.5" y="1370.40" width="27.0" height="32.40" fill="#0000ff"/>
<rect x="1039.5" y="1338.30" width="27.0" height="32.40" fill="#0d0dff"/>
<rect x="1039.5" y="1306.20" width="27.0" height="32.40" fill="#1b1bff"/>
<rect x="1039.5" y="1274.10" width="27.0" height="32.40" fill="#2828ff"/>
<rect x="1039.5" y="1242.00" width="27.0" height="32.40" fill="#3636ff"/>
<rect x="1039.5" y="1209.90" width="27.0" height="32.40" fill="#4343ff"/>
<rect x="1039.5" y="1177.80" width="27.0" height="32.40" fill="#5151ff"/>
<rect x="1039.5" y="1145.70" width="27.0" height="32.40" fill="#5e5eff"/>
<rect x="1039.5" y="1113.60" width="27.0" height="32.40" fill="#6b6bff"/>
<rect x="1039.5" y="1081.50" width="27.0" height="32.40" fill="#7979ff"/>
<rect x="1039.5" y="1049.40" width="27.0" height="32.40" fill="#8686ff"/>
<rect x="1039.5" y="1017.30" width="27.0" height="32.40" fill="#9494ff"/>
<rect x="1039.5" y="985.20" width="27.0" height="32.40" fill="#a1a1ff"/>
<rect x="1039.5" y="953.10" width="27.0" height="32.40" fill="#aeaeff"/>
<rect x="1039.5" y="921.00" width="27.0" height="32.40" fill="#bcbcff"/>
<rect x="1039.5" y="888.90" width="27.0" height="32.40" fill="#c9c9ff"/>
<rect x="1039.5" y="856.80" width="27.0" height="32.40" fill="#d7d7ff"/>
<rect x="1039.5" y="824.70" width="27.0" height="32.40" fill="#e4e4ff"/>
<rect x="1039.5" y="792.60" width="27.0" height="32.40" fill="#f2f2ff"/>
<rect x="1039.5" y="760.50" width="27.0" height="32.40" fill="#ffffff"/>
<rect x="1039.5" y="728.40" width="27.0" height="32.40" fill="#ffffff"/>
<rect x="1039.5" y="696.30" width="27.0" height="32.40" fill="#fff2f2"/>
<rect x="1039.5" y="664.20" width="27.0" height="32.40" fill="#ffe4e4"/>
<rect x="1039.5" y="632.10" width="27.0" height="32.40" fill="#ffd7d7"/>
<rect x="1039.5" y="600.00" width="27.0" height="32.40" fill="#ffc9c9"/>
<rect x="1039.5" y="567.90" width="27.0" height="32.40" fill="#ffbcbc"/>
<rect x="1039.5" y="535.80" width="27.0" height="32.40" fill="#ffaeae"/>
<rect x="1039.5" y="503.70" width="27.0" height="32.40" fill="#ffa1a1"/>
<rect x="1039.5" y="471.60" width="27.0" height="32.40" fill="#ff9494"/>
<rect x="1039.5" y="439.50" width="27.0" height="32.40" fill="#ff8686"/>
<rect x="1039.5" y="407.40" width="27.0" height="32.40" fill="#ff7979"/>
<rect x="1039.5" y="375.30" width="27.0" height="32.40" fill="#ff6b6b"/>
<rect x="1039.5" y="343.20" width="27.0" height="32.40" fill="#ff5e5e"/>
<rect x="1039.5" y="311.10" width="27.0" height="32.40" fill="#ff5151"/>
<rect x="1039.5" y="279.00" width="27.0" height="32.40" fill="#ff4343"/>
<rect x="1039.5" y="246.90" width="27.0" height="32.40" fill="#ff3636"/>
<rect x="1039.5" y="214.80" width="27.0" height="32.40" fill="#ff2828"/>
<rect x="1039.5" y="182.70" width="27.0" height="32.40" fill="#ff1b1b"/>
<rect x="1039.5" y="150.60" width="27.0" height="32.40" fill="#ff0d0d"/>
<rect x="1039.5" y="118.50" width="27.0" height="32.40" fill="#ff0000"/>
<path d="M1039.5,1370.40h27.0M1039.5,1338.30h27.0M1039.5,1306.20h27.0M1039.5,1274.10h27.0M1039.5,1242.00h27.0M1039.5,1209.90h27.0M1039.5,1177.80h27.0M1039.5,1145.70h27.0M1039.5,1113.60h27.0M1039.5,1081.50h27.0M1039.5,1049.40h27.0M1039.5,1017.30h27.0M1039.5,985.20h27.0M1039.5,953.10h27.0M1039.5,921.00h27.0M1039.5,888.90h27.0M1039.5,856.80h27.0M1039.5,824.70h27.0M1039.5,792.60h27.0M1039.5,760.50h27.0M1039.5,728.40h27.0M1039.5,696.30h27.0M1039.5,664.20h27.0M1039.5,632.10h27.0M1039.5,600.00h27.0M1039.5,567.90h27.0M1039.5,535.80h27.0M1039.5,503.70h27.0M1039.5,471.60h27.0M1039.5,439.50h27.0M1039.5,407.40h27.0M1039.5,375.30h27.0M1039.5,343.20h27.0M1039.5,311.10h27.0M1039.5,279.00h27.0M1039.5,246.90h27.0M1039.5,214.80h27.0M1039.5,182.70h27.0M1039.5,150.60h27.0" stroke="#1a1a1a" stroke-width="1" fill="none" opacity="0.85"/>
<rect x="1039.5" y="118.5" width="27.0" height="1284.0" fill="none" stroke="#262626" stroke-width="1"/>
<text x="1070.7" y="1410.7" font-family="DejaVu Sans, Liberation Sans, sans-serif" font-size="23.47" fill="#262626">-0.5</text>
<text x="1070.7" y="1282.3" font-family="DejaVu Sans, Liberation Sans, sans-serif" font-size="23.47" fill="#262626">-0.4</text>
<text x="1070.7" y="1153.9" font-family="DejaVu Sans, Liberation Sans, sans-serif" font-size="23.47" fill="#262626">-0.3</text>
<text x="1070.7" y="1025.5" font-family="DejaVu Sans, Liberation Sans, sans-serif" font-size="23.47" fill="#262626">-0.2</text>
<text x="1070.7" y="897.1" font-family="DejaVu Sans, Liberation Sans, sans-serif" font-size="23.47" fill="#262626">-0.1</text>
<text x="1070.7" y="768.7" font-family="DejaVu Sans, Liberation Sans, sans-serif" font-size="23.47" fill="#262626">0</text>
<text x="1070.7" y="640.3" font-family="DejaVu Sans, Liberation Sans, sans-serif" font-size="23.47" fill="#262626">0.1</text>
<text x="1070.7" y="511.9" font-family="DejaVu Sans, Liberation Sans, sans-serif" font-size="23.47" fill="#262626">0.2</text>
<text x="1070.7" y="383.5" font-family="DejaVu Sans, Liberation Sans, sans-serif" font-size="23.47" fill="#262626">0.3</text>
<text x="1070.7" y="255.1" font-family="DejaVu Sans, Liberation Sans, sans-serif" font-size="23.47" fill="#262626">0.4</text>
<text x="1070.7" y="126.7" font-family="DejaVu Sans, Liberation Sans, sans-serif" font-size="23.47" fill="#262626">0.5</text>
<text transform="translate(1144.5,761.5) rotate(-90)" font-family="DejaVu Sans, Liberation Sans, sans-serif" font-size="25.1" fill="#262626" text-anchor="middle">Anomaly of Salinity (psu)</text>
</svg></body></html>
